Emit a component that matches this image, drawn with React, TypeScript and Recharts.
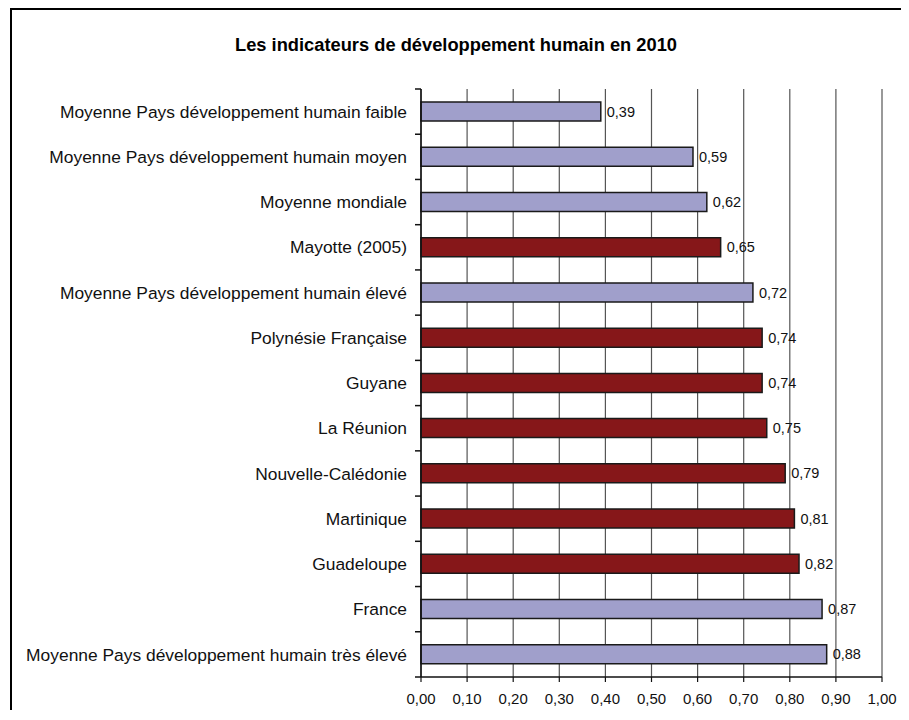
import React from 'react';
import { BarChart, Bar, XAxis, YAxis, CartesianGrid, Cell, LabelList } from 'recharts';

const categories = [
  'Moyenne Pays développement humain faible',
  'Moyenne Pays développement humain moyen',
  'Moyenne mondiale',
  'Mayotte (2005)',
  'Moyenne Pays développement humain élevé',
  'Polynésie Française',
  'Guyane',
  'La Réunion',
  'Nouvelle-Calédonie',
  'Martinique',
  'Guadeloupe',
  'France',
  'Moyenne Pays développement humain très élevé',
];
const values = [0.39, 0.59, 0.62, 0.65, 0.72, 0.74, 0.74, 0.75, 0.79, 0.81, 0.82, 0.87, 0.88];
const groups = ['ref', 'ref', 'ref', 'dom', 'ref', 'dom', 'dom', 'dom', 'dom', 'dom', 'dom', 'ref', 'ref'];
const xTicks = [0, 0.1, 0.2, 0.3, 0.4, 0.5, 0.6, 0.7, 0.8, 0.9, 1.0];
const title = 'Les indicateurs de développement humain en 2010';

const colors: Record<string, string> = { ref: '#A09FCB', dom: '#861719' };

const data = categories.map((name, i) => ({ name, value: values[i], group: groups[i] }));

const fmt = (v: number) => v.toFixed(2).replace('.', ',');
const FONT = '"Liberation Sans", Arial, sans-serif';

const TICK_SIZE = 6;
const TICK_MARGIN = 8;

const YTick = (props: any) => {
  const { x, y, payload, index, visibleTicksCount } = props;
  const half = payload && typeof payload.offset === 'number' && payload.offset > 0 ? payload.offset : 22.6;
  const ax = x + TICK_SIZE + TICK_MARGIN;
  const isLast = index === visibleTicksCount - 1;
  return (
    <g>
      <line x1={ax - TICK_SIZE} x2={ax} y1={y - half} y2={y - half} stroke="#111" strokeWidth={1.5} />
      {isLast && (
        <line x1={ax - TICK_SIZE} x2={ax} y1={y + half} y2={y + half} stroke="#111" strokeWidth={1.5} />
      )}
      <text
        x={x}
        y={y}
        dy="0.355em"
        textAnchor="end"
        fill="#111"
        fontSize={17.4}
        fontFamily={FONT}
      >
        {payload.value}
      </text>
    </g>
  );
};

export default function App() {
  return (
    <div
      style={{
        position: 'relative',
        marginLeft: 2,
        width: 890,
        height: 700,
        borderTop: '2px solid #000',
        borderLeft: '2px solid #000',
        fontFamily: FONT,
        background: '#fff',
      }}
    >
      <div
        style={{
          position: 'absolute',
          left: 0,
          top: 26,
          width: 888,
          textAlign: 'center',
          fontSize: 18.3,
          lineHeight: '18px',
          fontWeight: 'bold',
          color: '#000',
        }}
      >
        {title}
      </div>
      <BarChart
        width={890}
        height={700}
        data={data}
        layout="vertical"
        margin={{ top: 79, right: 20, bottom: 3, left: 9 }}
        barSize={19}
      >
        <CartesianGrid horizontal={false} vertical={true} stroke="#555" strokeWidth={1.2} />
        <XAxis
          type="number"
          domain={[0, 1]}
          ticks={xTicks}
          tickFormatter={fmt}
          axisLine={{ stroke: '#111', strokeWidth: 1.4 }}
          tickLine={{ stroke: '#111', strokeWidth: 1.2 }}
          tickSize={5}
          tickMargin={11}
          height={30}
          tick={{ fill: '#111', fontSize: 15, fontFamily: FONT }}
          interval={0}
        />
        <XAxis
          xAxisId="top"
          orientation="top"
          type="number"
          domain={[0, 1]}
          height={0}
          tick={false}
          tickLine={false}
          axisLine={{ stroke: '#aaa', strokeWidth: 1 }}
        />
        <YAxis
          type="category"
          dataKey="name"
          width={400}
          axisLine={{ stroke: '#111', strokeWidth: 1.5 }}
          tickLine={false}
          tickSize={TICK_SIZE}
          tickMargin={TICK_MARGIN}
          interval={0}
          tick={<YTick />}
        />
        <Bar dataKey="value" stroke="#1a1a1a" strokeWidth={1.5} isAnimationActive={false}>
          {data.map((d, i) => (
            <Cell key={i} fill={colors[d.group]} />
          ))}
          <LabelList
            dataKey="value"
            position="right"
            offset={6}
            formatter={(v: number) => fmt(v)}
            style={{ fill: '#111', fontSize: 14.5, fontFamily: FONT }}
          />
        </Bar>
      </BarChart>
    </div>
  );
}
